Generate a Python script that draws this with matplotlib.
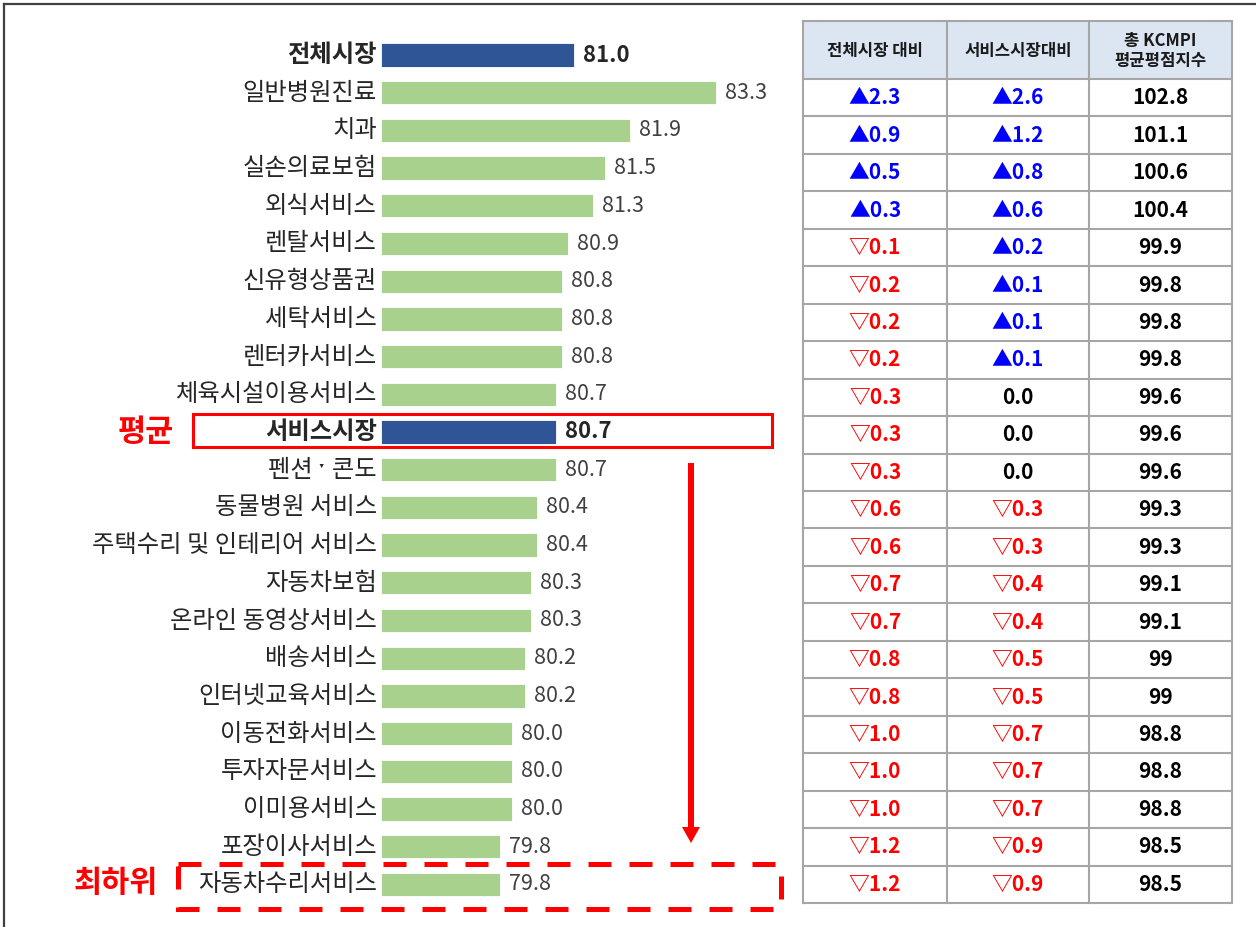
import matplotlib
matplotlib.use('Agg')
from matplotlib import pyplot as plt
from matplotlib import font_manager
from matplotlib.patches import Rectangle, FancyArrow
import numpy as np

# data
categories = ['전체시장', '일반병원진료', '치과', '실손의료보험', '외식서비스', '렌탈서비스',
              '신유형상품권', '세탁서비스', '렌터카서비스', '체육시설이용서비스', '서비스시장',
              '펜션 \u02d1 콘도', '동물병원 서비스', '주택수리 및 인테리어 서비스', '자동차보험',
              '온라인 동영상서비스', '배송서비스', '인터넷교육서비스', '이동전화서비스',
              '투자자문서비스', '이미용서비스', '포장이사서비스', '자동차수리서비스']
scores = [81.0, 83.3, 81.9, 81.5, 81.3, 80.9, 80.8, 80.8, 80.8, 80.7, 80.7, 80.7,
          80.4, 80.4, 80.3, 80.3, 80.2, 80.2, 80.0, 80.0, 80.0, 79.8, 79.8]
highlight = ['전체시장', '서비스시장']

table_headers = ['전체시장 대비', '서비스시장대비', '총 KCMPI\n평균평점지수']
vs_total = [2.3, 0.9, 0.5, 0.3, -0.1, -0.2, -0.2, -0.2, -0.3, -0.3, -0.3,
            -0.6, -0.6, -0.7, -0.7, -0.8, -0.8, -1.0, -1.0, -1.0, -1.2, -1.2]
vs_service = [2.6, 1.2, 0.8, 0.6, 0.2, 0.1, 0.1, 0.1, 0.0, 0.0, 0.0,
              -0.3, -0.3, -0.4, -0.4, -0.5, -0.5, -0.7, -0.7, -0.7, -0.9, -0.9]
kcmpi_index = ['102.8', '101.1', '100.6', '100.4', '99.9', '99.8', '99.8', '99.8',
               '99.6', '99.6', '99.6', '99.3', '99.3', '99.1', '99.1', '99', '99',
               '98.8', '98.8', '98.8', '98.5', '98.5']

KR = ['Noto Sans CJK KR', 'DejaVu Sans']
try:
    font_manager.findfont('Liberation Sans Narrow', fallback_to_default=False)
    NUM = ['Liberation Sans Narrow', 'Noto Sans CJK KR']
except Exception:
    NUM = KR
plt.rcParams['font.family'] = KR

W, H = 1256, 927
fig = plt.figure(figsize=(W / 100, H / 100), dpi=100)

# pixel overlay for table, frame and annotations
ov = fig.add_axes([0, 0, 1, 1])
ov.set_xlim(0, W)
ov.set_ylim(H, 0)
ov.axis('off')

# bar chart axes, placed in pixels
row0, step = 55, 37.7
n = len(categories)
top_px = row0 - step / 2
bot_px = row0 + (n - 1) * step + step / 2
left_px, right_px = 381, 781
px_per_unit = 61.7
x0 = 77.87
ax = fig.add_axes([left_px / W, 1 - bot_px / H, (right_px - left_px) / W, (bot_px - top_px) / H])
ax.set_xlim(x0, x0 + (right_px - left_px) / px_per_unit)
ax.set_ylim(n - 0.5, -0.5)
ax.axis('off')

ypos = np.arange(n)
colors = ['#2F5597' if c in highlight else '#A9D18E' for c in categories]
ax.barh(ypos, np.array(scores) - x0, left=x0, height=0.62, color=colors,
        edgecolor='white', linewidth=0.6)
for i, (c, v) in enumerate(zip(categories, scores)):
    bold = c in highlight
    ax.annotate(c, (x0, i), xytext=(-4, 0), textcoords='offset pixels',
                ha='right', va='center', fontsize=17.5,
                fontweight='bold' if bold else 'normal', color='#262626', family=KR)
    ax.annotate('%.1f' % v, (v, i), xytext=(9, 0), textcoords='offset pixels',
                ha='left', va='center', fontsize=16 if bold else 15.5,
                fontweight='bold' if bold else 'normal',
                color='#262626' if bold else '#404040', family=NUM)

# table
col_x = [803, 947, 1089, 1232]
head_top, head_bot = 21, 79
row_h = (903 - head_bot) / len(kcmpi_index)
grid = '#A6A6A6'
ov.add_patch(Rectangle((col_x[0], head_top), col_x[-1] - col_x[0], head_bot - head_top,
                       facecolor='#DCE6F2', edgecolor='none'))
row_lines = [head_top, head_bot] + [head_bot + (k + 1) * row_h for k in range(len(kcmpi_index))]
for yl in row_lines:
    ov.plot([col_x[0], col_x[-1]], [yl, yl], color=grid, lw=1.5, solid_capstyle='projecting')
for xl in col_x:
    ov.plot([xl, xl], [head_top, row_lines[-1]], color=grid, lw=1.5, solid_capstyle='projecting')

for j, h in enumerate(table_headers):
    ov.text((col_x[j] + col_x[j + 1]) / 2, (head_top + head_bot) / 2 + 1, h,
            ha='center', va='center', fontsize=12, fontweight='bold',
            color='#1A1A1A', linespacing=1.1)


def fmt(v):
    if v > 0:
        return '\u25b2%.1f' % v, '#0000FF'
    if v < 0:
        return '\u25bd%.1f' % abs(v), '#FF0000'
    return '0.0', '#000000'


for k in range(len(kcmpi_index)):
    yc = head_bot + (k + 0.5) * row_h
    for j, v in enumerate([vs_total[k], vs_service[k]]):
        s, col = fmt(v)
        ov.text((col_x[j] + col_x[j + 1]) / 2, yc, s, ha='center', va='center',
                fontsize=15, fontweight='bold', color=col, family=KR)
    ov.text((col_x[2] + col_x[3]) / 2, yc, kcmpi_index[k], ha='center', va='center',
            fontsize=15, fontweight='bold', color='#000000', family=KR)

# outer frame (top and left edges)
ov.plot([4, W], [4, 4], color='#404040', lw=1.6)
ov.plot([4, 4], [4, H], color='#404040', lw=1.6)

# annotations
red = '#FF0000'
ov.text(146, 432, '평균', ha='center', va='center', fontsize=22, fontweight='bold', color=red)
ov.add_patch(Rectangle((193, 414), 772 - 193, 447 - 414, fill=False, edgecolor=red, lw=2.2))
ov.add_patch(FancyArrow(691, 463, 0, 843 - 463, width=6, head_width=18, head_length=16,
                        length_includes_head=True, color=red, lw=0))
ov.text(116, 883, '최하위', ha='center', va='center', fontsize=22, fontweight='bold', color=red)
ov.add_patch(Rectangle((178, 864), 781 - 178, 909 - 864, fill=False, edgecolor=red, lw=3.6,
                       linestyle=(0, (4.6, 3.6))))

fig.savefig('out.png', dpi=100)
